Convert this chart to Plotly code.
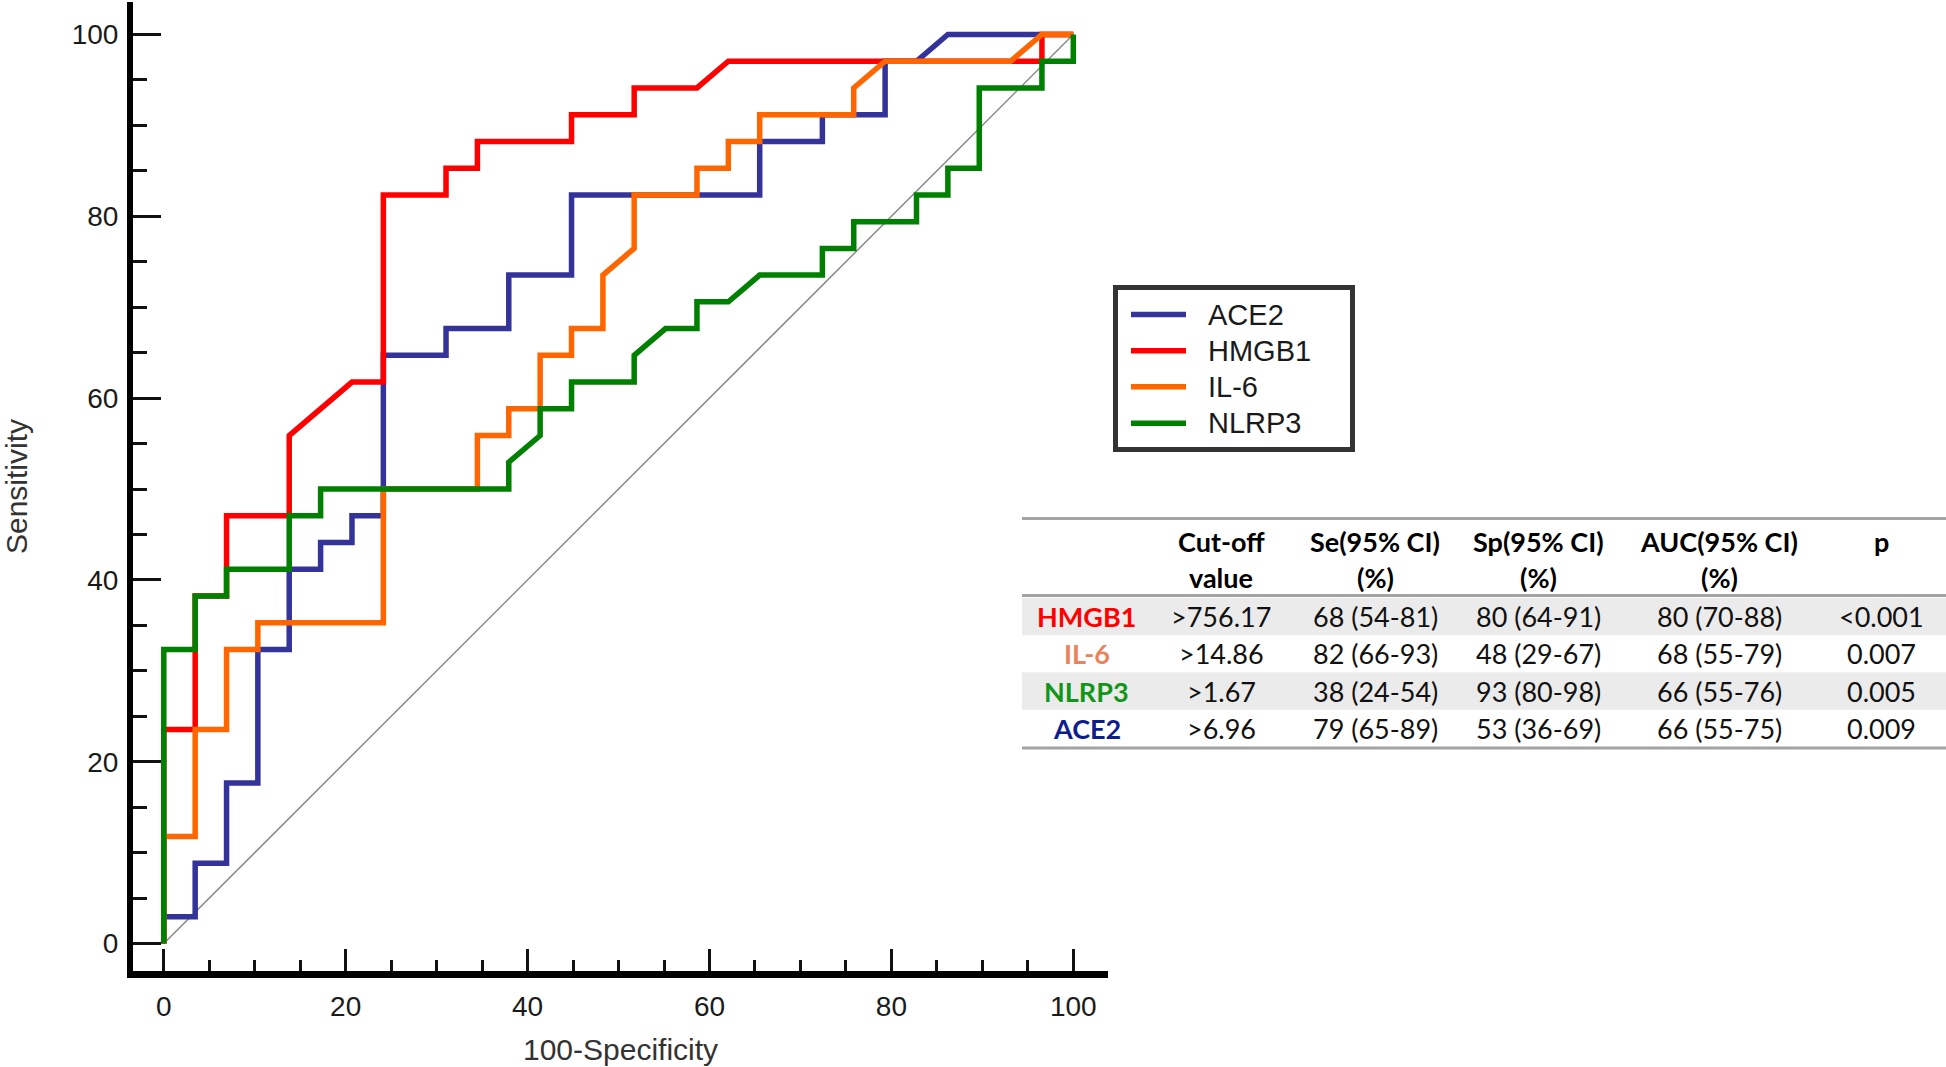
import plotly.graph_objects as go

# ---------------- data ----------------
# ROC curve vertices: x = 100-Specificity (%), y = Sensitivity (%)
ace2_x = [0, 0, 3.45, 3.45, 6.9, 6.9, 10.34, 10.34, 13.79, 13.79, 17.24, 17.24, 20.69, 20.69,
          24.14, 24.14, 31.03, 31.03, 37.93, 37.93, 44.83, 44.83, 65.52, 65.52, 72.41, 72.41,
          79.31, 79.31, 82.76, 86.21, 100]
ace2_y = [0, 2.94, 2.94, 8.82, 8.82, 17.65, 17.65, 32.35, 32.35, 41.18, 41.18, 44.12, 44.12, 47.06,
          47.06, 64.71, 64.71, 67.65, 67.65, 73.53, 73.53, 82.35, 82.35, 88.24, 88.24, 91.18,
          91.18, 97.06, 97.06, 100, 100]

hmgb1_x = [0, 0, 3.45, 3.45, 6.9, 6.9, 13.79, 13.79, 20.69, 24.14, 24.14, 31.03, 31.03, 34.48,
           34.48, 44.83, 44.83, 51.72, 51.72, 58.62, 62.07, 96.55, 96.55, 100]
hmgb1_y = [0, 23.53, 23.53, 38.24, 38.24, 47.06, 47.06, 55.88, 61.76, 61.76, 82.35, 82.35, 85.29,
           85.29, 88.24, 88.24, 91.18, 91.18, 94.12, 94.12, 97.06, 97.06, 100, 100]

il6_x = [0, 0, 3.45, 3.45, 6.9, 6.9, 10.34, 10.34, 24.14, 24.14, 34.48, 34.48, 37.93, 37.93,
         41.38, 41.38, 44.83, 44.83, 48.28, 48.28, 51.72, 51.72, 58.62, 58.62, 62.07, 62.07,
         65.52, 65.52, 75.86, 75.86, 79.31, 93.1, 96.55, 100]
il6_y = [0, 11.76, 11.76, 23.53, 23.53, 32.35, 32.35, 35.29, 35.29, 50, 50, 55.88, 55.88, 58.82,
         58.82, 64.71, 64.71, 67.65, 67.65, 73.53, 76.47, 82.35, 82.35, 85.29, 85.29, 88.24,
         88.24, 91.18, 91.18, 94.12, 97.06, 97.06, 100, 100]

nlrp3_x = [0, 0, 3.45, 3.45, 6.9, 6.9, 13.79, 13.79, 17.24, 17.24, 37.93, 37.93, 41.38, 41.38,
           44.83, 44.83, 51.72, 51.72, 55.17, 58.62, 58.62, 62.07, 65.52, 72.41, 72.41, 75.86,
           75.86, 82.76, 82.76, 86.21, 86.21, 89.66, 89.66, 96.55, 96.55, 100, 100]
nlrp3_y = [0, 32.35, 32.35, 38.24, 38.24, 41.18, 41.18, 47.06, 47.06, 50, 50, 52.94, 55.88, 58.82,
           58.82, 61.76, 61.76, 64.71, 67.65, 67.65, 70.59, 70.59, 73.53, 73.53, 76.47, 76.47,
           79.41, 79.41, 82.35, 82.35, 85.29, 85.29, 94.12, 94.12, 97.06, 97.06, 100]

diag_x = [0, 100]
diag_y = [0, 100]

tick_vals = [0, 20, 40, 60, 80, 100]

series_names = ["ACE2", "HMGB1", "IL-6", "NLRP3"]

# table contents
table_head1 = ["", "Cut-off", "Se(95% CI)", "Sp(95% CI)", "AUC(95% CI)", "p"]
table_head2 = ["", "value", "(%)", "(%)", "(%)", ""]
table_names = ["HMGB1", "IL-6", "NLRP3", "ACE2"]
table_cutoff = [">756.17", ">14.86", ">1.67", ">6.96"]
table_se = ["68 (54-81)", "82 (66-93)", "38 (24-54)", "79 (65-89)"]
table_sp = ["80 (64-91)", "48 (29-67)", "93 (80-98)", "53 (36-69)"]
table_auc = ["80 (70-88)", "68 (55-79)", "66 (55-76)", "66 (55-75)"]
table_p = ["<0.001", "0.007", "0.005", "0.009"]

# ---------------- styling ----------------
W, H = 1946, 1067
L, R, T, B = 133, 1108, 2, 971          # plot area in pixels
AX_FONT = "Liberation Sans, Arial, sans-serif"
TB_FONT = "Lato, Carlito, Calibri, sans-serif"

curve_colors = {"ACE2": "#333399", "HMGB1": "#FF0000", "IL-6": "#FF6600", "NLRP3": "#008000"}
name_colors = {"HMGB1": "#FF0000", "IL-6": "#E8845C", "NLRP3": "#12961A", "ACE2": "#0D1D8E"}


def px(X):
    return (X - L) / (R - L)


def py(Y):
    return (B - Y) / (B - T)


fig = go.Figure()

fig.add_trace(go.Scatter(x=diag_x, y=diag_y, mode="lines", showlegend=False, hoverinfo="skip",
                         line=dict(color="#8a8a8a", width=1.5)))

for name, xs, ys in zip(series_names, [ace2_x, hmgb1_x, il6_x, nlrp3_x],
                        [ace2_y, hmgb1_y, il6_y, nlrp3_y]):
    fig.add_trace(go.Scatter(x=xs, y=ys, mode="lines", name=name, showlegend=False,
                             line=dict(color=curve_colors[name], width=5.5)))

axis_common = dict(
    showgrid=False, zeroline=False, showline=True, linecolor="#000000",
    ticks="inside", tickwidth=3, tickcolor="#111111",
    tickmode="array", tickvals=tick_vals,
    tickfont=dict(family=AX_FONT, size=28, color="#1a1a1a"),
    automargin=False,
)

fig.update_xaxes(
    **axis_common, range=[(L - 163.8) / 9.095, (R - 163.8) / 9.095],
    linewidth=7, ticklen=22, ticklabelstandoff=4,
    minor=dict(ticks="inside", dtick=5, tick0=0, ticklen=11, tickwidth=3, tickcolor="#111111"),
    title=dict(text="100-Specificity", font=dict(family=AX_FONT, size=30, color="#333333"),
               standoff=21),
)
fig.update_yaxes(
    **axis_common, range=[(943.5 - B) / 9.09, (943.5 - T) / 9.09],
    linewidth=6, ticklen=28, ticklabelstandoff=3,
    minor=dict(ticks="inside", dtick=5, tick0=0, ticklen=14, tickwidth=3, tickcolor="#111111"),
    title=dict(text="Sensitivity", font=dict(family=AX_FONT, size=30, color="#333333"),
               standoff=40),
)

shapes = []
annotations = []

# ---------------- legend box (drawn) ----------------
shapes.append(dict(type="rect", xref="paper", yref="paper",
                   x0=px(1115.5), x1=px(1352.5), y0=py(449.5), y1=py(287.5),
                   fillcolor="#FFFFFF", line=dict(color="#333333", width=5)))
leg_rows = [314.5, 350.7, 386.8, 423.2]
for name, yr in zip(series_names, leg_rows):
    shapes.append(dict(type="line", xref="paper", yref="paper",
                       x0=px(1131), x1=px(1186), y0=py(yr), y1=py(yr),
                       line=dict(color=curve_colors[name], width=5.5)))
    annotations.append(dict(x=px(1206), y=py(yr), xref="paper", yref="paper",
                            text=name, showarrow=False, xanchor="left", yanchor="middle",
                            font=dict(family=AX_FONT, size=29, color="#1a1a1a")))

# ---------------- table (shapes + annotations) ----------------
TX0, TX1 = 1022, 1946
row_y = [616.5, 654, 691, 728.5]
row_h = 37.3
for i, yc in enumerate(row_y):
    if i % 2 == 0:
        shapes.append(dict(type="rect", xref="paper", yref="paper", layer="below",
                           x0=px(TX0), x1=px(TX1), y0=py(yc + row_h / 2), y1=py(yc - row_h / 2),
                           fillcolor="#EBEBEB", line=dict(width=0)))
for Yr in [518.5, 595.5, 748]:
    shapes.append(dict(type="line", xref="paper", yref="paper",
                       x0=px(TX0), x1=px(TX1), y0=py(Yr), y1=py(Yr),
                       line=dict(color="#A3A3A3", width=3)))

col_x = [1086.5, 1221, 1375, 1538, 1719, 1881.5]
for j, cx in enumerate(col_x):
    for txt, yc in [(table_head1[j], 541), (table_head2[j], 577)]:
        if txt:
            annotations.append(dict(x=px(cx), y=py(yc), xref="paper", yref="paper",
                                    text="<b>" + txt + "</b>", showarrow=False,
                                    xanchor="center", yanchor="middle",
                                    font=dict(family=TB_FONT, size=27, color="#000000")))

cols = [table_cutoff, table_se, table_sp, table_auc, table_p]
for i, nm in enumerate(table_names):
    annotations.append(dict(x=px(col_x[0]), y=py(row_y[i]), xref="paper", yref="paper",
                            text="<b>" + nm + "</b>", showarrow=False,
                            xanchor="center", yanchor="middle",
                            font=dict(family=TB_FONT, size=27, color=name_colors[nm])))
    for j, col in enumerate(cols):
        annotations.append(dict(x=px(col_x[j + 1]), y=py(row_y[i]), xref="paper", yref="paper",
                                text=col[i], showarrow=False,
                                xanchor="center", yanchor="middle",
                                font=dict(family=TB_FONT, size=27, color="#111111")))

fig.update_layout(
    width=W, height=H,
    margin=dict(l=L, r=W - R, t=T, b=H - B, pad=0),
    paper_bgcolor="#FFFFFF", plot_bgcolor="#FFFFFF",
    showlegend=False,
    shapes=shapes,
    annotations=annotations,
)

fig.write_html("out.html", config={"displayModeBar": False},
               post_script="document.body.style.margin='0px';")
